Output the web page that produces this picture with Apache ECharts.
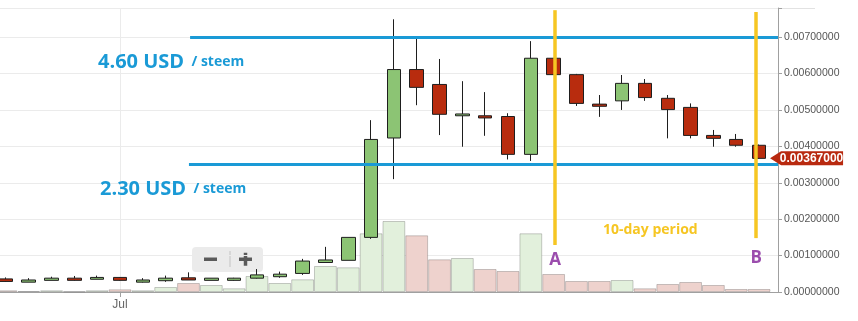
<!DOCTYPE html>
<html><head><meta charset="utf-8">
<script src="https://cdn.jsdelivr.net/npm/echarts@6/dist/echarts.min.js"></script>
<style>html,body{margin:0;padding:0;background:#fff}#c{width:858px;height:321px}</style>
</head><body><div id="c"></div><script>
// ---- data (STEEM/BTC daily) ----
const dates = ['Jun 26','Jun 27','Jun 28','Jun 29','Jun 30','Jul 1','Jul 2','Jul 3','Jul 4','Jul 5','Jul 6','Jul 7','Jul 8','Jul 9','Jul 10','Jul 11','Jul 12','Jul 13','Jul 14','Jul 15','Jul 16','Jul 17','Jul 18','Jul 19','Jul 20','Jul 21','Jul 22','Jul 23','Jul 24','Jul 25','Jul 26','Jul 27','Jul 28','Jul 29'];
const opens  = [0.00036,0.00027,0.00032,0.00038,0.00035,0.00040,0.00027,0.00031,0.00039,0.00032,0.00032,0.00038,0.00042,0.00051,0.00081,0.00087,0.00150,0.00423,0.00611,0.00570,0.00484,0.00484,0.00482,0.00378,0.00642,0.00597,0.00516,0.00525,0.00573,0.00532,0.00507,0.00430,0.00419,0.00403];
const closes = [0.00029,0.00033,0.00038,0.00032,0.00040,0.00032,0.00033,0.00038,0.00033,0.00038,0.00038,0.00047,0.00049,0.00085,0.00088,0.00150,0.00419,0.00611,0.00562,0.00488,0.00489,0.00478,0.00378,0.00642,0.00597,0.00518,0.00510,0.00573,0.00534,0.00501,0.00430,0.00422,0.00403,0.00367];
const lows   = [0.00028,0.00027,0.00032,0.00031,0.00035,0.00031,0.00026,0.00028,0.00033,0.00032,0.00031,0.00037,0.00039,0.00047,0.00081,0.00087,0.00146,0.00310,0.00513,0.00431,0.00399,0.00429,0.00364,0.00360,0.00596,0.00511,0.00481,0.00500,0.00525,0.00422,0.00422,0.00399,0.00399,0.00366];
const highs  = [0.00040,0.00038,0.00042,0.00044,0.00045,0.00041,0.00038,0.00045,0.00054,0.00038,0.00039,0.00063,0.00056,0.00091,0.00124,0.00150,0.00472,0.00749,0.00696,0.00640,0.00579,0.00549,0.00491,0.00689,0.00643,0.00599,0.00541,0.00596,0.00585,0.00541,0.00518,0.00445,0.00434,0.00405];
const volumes = [17,10,17,7,17,27,17,50,90,70,37,160,90,127,260,247,587,710,567,327,340,230,210,587,180,110,110,120,37,80,100,70,30,30];
const xTickIndex = [5];
const xTickLabels = ['Jul'];
// annotation levels
const upperLevel = 0.007, lowerLevel = 0.0035;
const upperText = '4.60 USD', lowerText = '2.30 USD', unitText = '/ steem';
const markA = 24.06, markB = 32.87;

const UP = '#8cc474', DOWN = '#b82c0e';
const BLUE = '#1a9ad6', YELLOW = '#f6c623', PURPLE = '#9b4dad';
const FONT = 'Liberation Sans, Arial, sans-serif';
const BOLD = '"Open Sans", "DejaVu Sans", sans-serif';

const chart = echarts.init(document.getElementById('c'), null, {renderer: 'canvas'});
const xMin = -0.259, xMax = 33.83, yMax = 0.0078;
const last = closes.length - 1;

const blueLine = {lineStyle: {color: BLUE, width: 3, type: 'solid'}, label: {show: false}};
const yellowLine = {lineStyle: {color: YELLOW, width: 3.5, type: 'solid'}};
const richStyle = {a: {fontSize: 20, fontWeight: 'bold', fill: BLUE, fontFamily: BOLD},
                   b: {fontSize: 14, fontWeight: 'bold', fill: BLUE, fontFamily: BOLD, padding: [0, 0, 0, 4]}};

chart.setOption({
  animation: false,
  backgroundColor: '#fff',
  grid: {left: 0, right: 80, top: 8, bottom: 29, containLabel: false, outerBoundsMode: 'none'},
  xAxis: {
    type: 'value', min: xMin, max: xMax,
    axisLine: {show: true, onZero: false, lineStyle: {color: '#a0a0a0'}},
    axisTick: {show: true, length: 5, lineStyle: {color: '#a0a0a0'}, customValues: xTickIndex},
    axisLabel: {customValues: xTickIndex, color: '#666', fontSize: 12, fontFamily: FONT, margin: 7,
      formatter: v => { const k = xTickIndex.indexOf(Math.round(v)); return k >= 0 ? xTickLabels[k] : ''; }},
    splitLine: {show: false}
  },
  yAxis: [{
    type: 'value', position: 'right', min: 0, max: yMax, interval: 0.001,
    axisLine: {show: true, onZero: false, lineStyle: {color: '#a0a0a0'}},
    axisTick: {show: true, length: 4, lineStyle: {color: '#a0a0a0'}},
    axisLabel: {color: '#555', fontSize: 10.5, fontFamily: FONT, margin: 6,
      formatter: v => Math.abs(v * 1000 - Math.round(v * 1000)) > 1e-6 ? '' : v.toFixed(8)},
    splitLine: {show: true, lineStyle: {color: '#ebebeb'}}
  }, {
    type: 'value', position: 'right', min: 0, max: 2840, show: false,
    axisLine: {show: false, onZero: false}, axisTick: {show: false}, axisLabel: {show: false}, splitLine: {show: false}
  }],
  series: [{
    type: 'line', data: [], silent: true, z: 0,
    markLine: {silent: true, symbol: 'none', z: 0, label: {show: false},
      lineStyle: {color: '#ebebeb', width: 1, type: 'solid'},
      data: xTickIndex.map(i => [{coord: [i, 0]}, {coord: [i, yMax]}])}
  }, {
    type: 'bar', yAxisIndex: 1, barWidth: 22.8, z: 1, silent: true,
    data: volumes.map((v, i) => ({value: [i, v], itemStyle: {
      color: closes[i] >= opens[i] ? '#e2f0dc' : '#eed2cd',
      borderColor: 'rgba(0,0,0,0.2)', borderWidth: 1}}))
  }, {
    type: 'candlestick', z: 3, silent: true, barWidth: 14,
    encode: {x: 0, y: [1, 2, 3, 4]},
    data: dates.map((d, i) => [i, opens[i], closes[i], lows[i], highs[i]]),
    itemStyle: {color: UP, color0: DOWN, borderColor: '#1e1e1e', borderColor0: '#1e1e1e', borderWidth: 1},
    markLine: {
      silent: true, symbol: 'none', z: 9,
      label: {show: true, position: 'start', color: PURPLE, fontSize: 17, fontWeight: 'bold', fontFamily: BOLD},
      data: [
        [{coord: [8.07, upperLevel], ...blueLine}, {coord: [xMax, upperLevel]}],
        [{coord: [8.02, lowerLevel], ...blueLine}, {coord: [xMax, lowerLevel]}],
        [{coord: [markA, 0.00129], name: 'A', ...yellowLine, label: {formatter: 'A', distance: 7}}, {coord: [markA, 0.00774]}],
        [{coord: [markB, 0.00148], name: 'B', ...yellowLine, label: {formatter: 'B', distance: 12}}, {coord: [markB, 0.00769]}]
      ]
    },
    markPoint: {
      silent: true, z: 12,
      data: [{coord: [last, closes[last]],
        symbol: 'path://M0,7L11,0L73,0L73,14L11,14Z', symbolSize: [73, 14], symbolOffset: [47.5, 0], symbolKeepAspect: false,
        itemStyle: {color: '#b8290f'},
        label: {show: true, position: 'inside', offset: [5, 0], formatter: closes[last].toFixed(8),
          color: '#fff', fontWeight: 'bold', fontSize: 12, fontFamily: FONT}}]
    }
  }],
  graphic: [
    {type: 'rect', left: 0, top: 8, z: 0, silent: true, shape: {width: 815, height: 1}, style: {fill: '#e2e2e2'}},
    {type: 'text', left: 98, top: 52, z: 20, silent: true, style: {
      text: '{a|' + upperText + '} {b|' + unitText + '}', rich: richStyle}},
    {type: 'text', left: 100, top: 179, z: 20, silent: true, style: {
      text: '{a|' + lowerText + '} {b|' + unitText + '}', rich: richStyle}},
    {type: 'text', left: 603, top: 223, z: 20, silent: true, style: {
      text: '10-day period', fontSize: 14, fontWeight: 'bold', fill: YELLOW, fontFamily: BOLD}},
    {type: 'group', left: 192, top: 247, z: 20, silent: true, children: [
      {type: 'rect', shape: {x: 0, y: 0, width: 71, height: 25, r: 4}, style: {fill: 'rgba(228,228,228,0.75)'}},
      {type: 'rect', shape: {x: 12, y: 10.5, width: 13, height: 3.5}, style: {fill: '#5a5a5a'}},
      {type: 'rect', shape: {x: 37.5, y: 4, width: 1, height: 16}, style: {fill: '#c4c4c4'}},
      {type: 'rect', shape: {x: 47, y: 10.5, width: 13, height: 3.5}, style: {fill: '#5a5a5a'}},
      {type: 'rect', shape: {x: 51.75, y: 5.75, width: 3.5, height: 13}, style: {fill: '#5a5a5a'}}
    ]}
  ]
});
</script></body></html>
